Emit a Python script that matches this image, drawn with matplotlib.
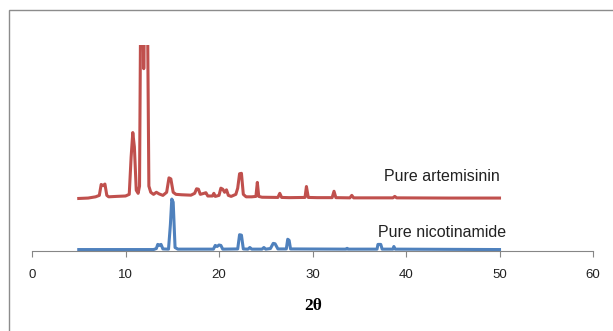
import matplotlib
matplotlib.use("Agg")
import matplotlib.pyplot as plt
from matplotlib.patches import Rectangle

# 2-theta positions and intensities (arbitrary units)
art_x = [5.0, 6.0, 6.8, 7.2, 7.4, 7.6, 7.8, 8.0, 8.2, 9.0, 10.0, 10.4, 10.6, 10.78, 10.95,
         11.15, 11.35, 11.5, 11.7, 11.95, 12.25, 12.5, 12.7, 13.0, 13.3, 13.6, 14.0,
         14.4, 14.65, 14.85, 15.1, 15.4, 16.0, 17.0, 17.4, 17.6, 17.8, 18.0, 18.4, 18.6,
         18.8, 19.3, 19.45, 19.6, 20.0, 20.2, 20.4, 20.6, 20.8, 21.0, 21.3, 21.8, 22.0,
         22.2, 22.4, 22.6, 22.9, 23.5, 23.95, 24.1, 24.25, 24.6, 26.3, 26.5, 26.7, 27.5,
         29.2, 29.35, 29.55, 30.5, 32.1, 32.3, 32.5, 34.0, 34.2, 34.4, 38.6, 38.8, 39.0,
         44.5, 50.0]
art_y = [0, 2, 8, 15, 68, 62, 70, 15, 8, 10, 12, 20, 200, 320, 250,
         40, 25, 60, 1500, 630, 1500, 60, 30, 20, 30, 22, 15,
         30, 100, 95, 30, 20, 18, 16, 25, 47, 45, 20, 25, 28,
         12, 12, 25, 10, 15, 50, 45, 30, 42, 15, 10, 20, 50,
         120, 122, 20, 8, 8, 10, 78, 10, 6, 5, 25, 5, 4,
         5, 58, 5, 4, 4, 35, 4, 3, 15, 3, 3, 10, 3,
         2, 2]

nic_x = [5.0, 13.0, 13.3, 13.45, 13.6, 13.8, 14.0, 14.6, 14.8, 14.95, 15.1, 15.3, 15.6,
         19.4, 19.6, 19.8, 20.0, 20.2, 20.4, 22.0, 22.2, 22.4, 22.6, 23.1, 23.3, 23.5,
         24.6, 24.8, 25.0, 25.5, 25.8, 26.0, 26.3, 27.2, 27.35, 27.5, 27.65, 33.6, 33.7,
         33.8, 36.9, 37.0, 37.3, 37.45, 38.6, 38.7, 38.85, 50.0]
nic_y = [0, 0, 5, 25, 20, 25, 3, 2, 120, 245, 230, 10, 2,
         2, 20, 15, 22, 20, 2, 3, 72, 70, 3, 2, 10, 2,
         2, 10, 2, 5, 30, 28, 3, 3, 50, 45, 3, 2, 6,
         2, 2, 25, 25, 2, 2, 15, 2, 0]

art_offset = 255
nic_offset = 7

fig = plt.figure(figsize=(6.13, 3.31), dpi=100)
ax = fig.add_axes([32 / 613, 80 / 331, 561 / 613, 206 / 331])

ax.plot(art_x, [v + art_offset for v in art_y], color="#C0504D", lw=2.2)
ax.plot(nic_x, [v + nic_offset for v in nic_y], color="#4F81BD", lw=2.2)

ax.set_xlim(0, 60)
ax.set_ylim(0, 1000)
ax.set_xticks(range(0, 61, 10))
ax.set_yticks([])
for s in ["left", "right", "top"]:
    ax.spines[s].set_visible(False)
ax.spines["bottom"].set_color("#868686")
ax.tick_params(axis="x", direction="out", length=4, color="#868686", pad=9,
               labelsize=9.5, labelcolor="#222222")
for lab in ax.get_xticklabels():
    lab.set_fontfamily("Liberation Sans")

ax.text(50.0, 364, "Pure artemisinin", ha="right", va="center", fontsize=11.5,
        family="Liberation Sans", color="#222222")
ax.text(50.7, 92, "Pure nicotinamide", ha="right", va="center", fontsize=11.5,
        family="Liberation Sans", color="#222222")

fig.text(313 / 613, 1 - 306 / 331, "2θ", ha="center", va="center", fontsize=12.5,
         fontweight="bold", family="Liberation Serif")

# outer chart frame, only the top-left part shows
fig.patches.append(Rectangle((8.5 / 613, -0.2), 1.2, 1.2 - 9.5 / 331,
                             transform=fig.transFigure, fill=False,
                             edgecolor="#8c8c8c", lw=1))

fig.savefig("out.png", dpi=100)
